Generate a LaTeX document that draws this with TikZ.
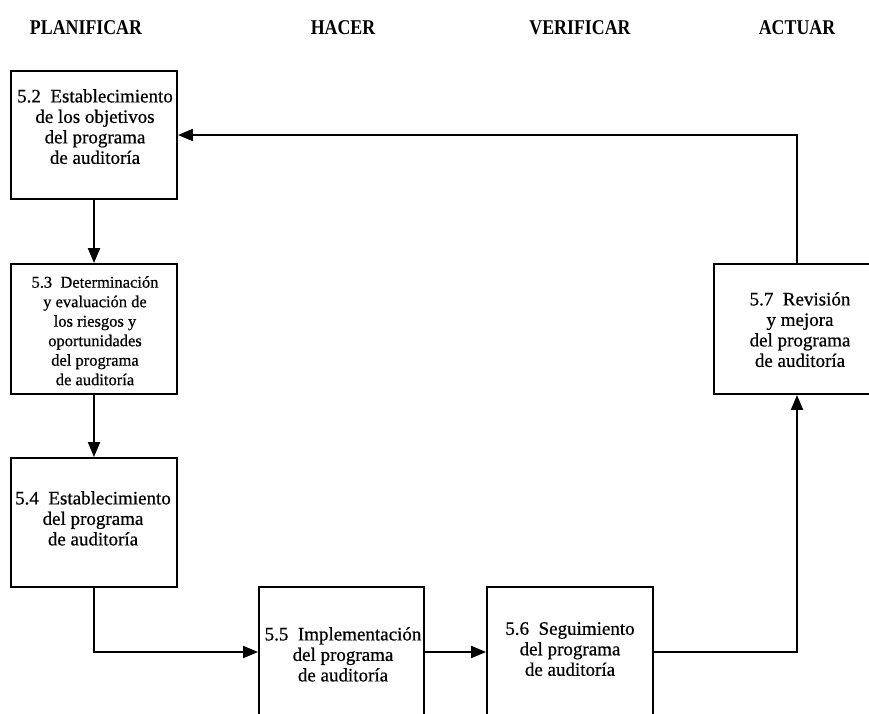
\documentclass[tikz,border=0pt]{standalone}
\usepackage{fontspec}
\setmainfont{Liberation Serif}
\newfontfamily\hdfont[FakeStretch=0.85]{Liberation Serif}
\newfontfamily\bodyfont[FakeBold=0.6]{Liberation Serif}
\usetikzlibrary{arrows.meta}
\begin{document}
\begin{tikzpicture}[x=1pt,y=-1pt,
  box/.style={draw=black,line width=1.9pt,minimum width=166pt,minimum height=128pt,inner sep=0pt,fill=white},
  txt/.style={align=center,inner sep=0pt,anchor=north,font=\bodyfont\fontsize{19}{20.5}\selectfont},
  txtsmall/.style={txt,font=\bodyfont\fontsize{16.5}{19.5}\selectfont},
  head/.style={inner sep=0pt,font=\hdfont\bfseries\fontsize{21}{22}\selectfont},
  conn/.style={line width=1.9pt,-{Triangle[length=15pt,width=12pt]}}]
\useasboundingbox (0,0) rectangle (869,713);
\fill[white] (0,0) rectangle (869,713);
% headers
\node[head] (h1) at (86,28) {PLANIFICAR};
\node[head] (h2) at (343,28) {HACER};
\node[head] (h3) at (580,28) {VERIFICAR};
\node[head] (h4) at (797,28) {ACTUAR};
% boxes
\node[box,minimum height=128pt] (b52) at (94,135) {};
\node[box,minimum height=130pt] (b53) at (94,329) {};
\node[box,minimum height=129pt] (b54) at (94,522.5) {};
\node[box,minimum width=165pt,minimum height=130pt] (b55) at (341.5,652) {};
\node[box,minimum height=130pt] (b56) at (570,652) {};
\node[box,minimum height=130pt] (b57) at (797,329) {};
% texts
\node[txt] (t52) at (95,89) {5.2~~Establecimiento\\de los objetivos\\del programa\\de auditoría};
\node[txtsmall] (t53) at (95,276) {5.3~~Determinación\\y evaluación de\\los riesgos y\\oportunidades\\del programa\\de auditoría};
\node[txt] (t54) at (93,491) {5.4~~Establecimiento\\del programa\\de auditoría};
\node[txt] (t55) at (343,627) {5.5~~Implementación\\del programa\\de auditoría};
\node[txt] (t56) at (570,622) {5.6~~Seguimiento\\del programa\\de auditoría};
\node[txt] (t57) at (800,292) {5.7~~Revisión\\y mejora\\del programa\\de auditoría};
% connectors
\draw[conn] (b52.south) -- (b53.north);
\draw[conn] (b53.south) -- (b54.north);
\draw[conn] (b54.south) |- (b55.west);
\draw[conn] (b55.east) -- (b56.west);
\draw[conn] (b56.east) -| (b57.south);
\draw[conn] (b57.north) |- (b52.east);
\end{tikzpicture}
\end{document}
